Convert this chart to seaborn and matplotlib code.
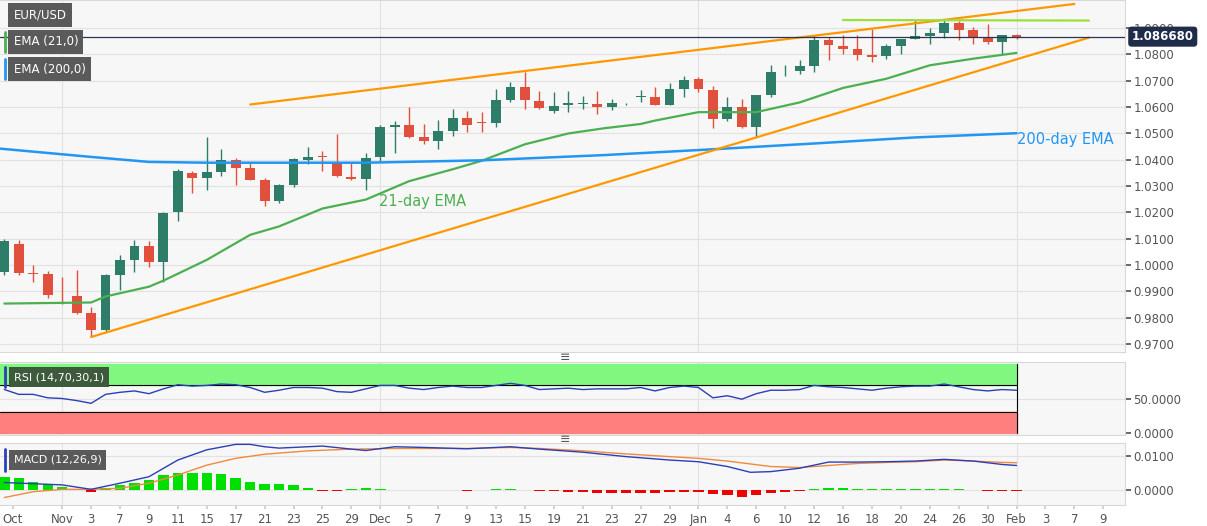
import numpy as np
import pandas as pd
import matplotlib
matplotlib.use("Agg")
import matplotlib.pyplot as plt
import seaborn as sns

# ---------------- data ----------------
opens = [0.9974,1.0079,0.9968,0.9965,0.9886,0.9882,0.9819,0.9751,0.9961,1.0020,
         1.0070,1.0012,1.0200,1.0350,1.0331,1.0354,1.0397,1.0369,1.0322,1.0242,
         1.0302,1.0398,1.0414,1.0392,1.0335,1.0327,1.0410,1.0524,1.0532,1.0486,
         1.0471,1.0509,1.0556,1.0544,1.0537,1.0628,1.0677,1.0624,1.0586,1.0607,
         1.0611,1.0611,1.0598,1.0610,1.0637,1.0639,1.0609,1.0668,1.0707,1.0665,
         1.0554,1.0601,1.0522,1.0645,1.0735,1.0738,1.0755,1.0853,1.0830,1.0821,
         1.0796,1.0792,1.0832,1.0859,1.0868,1.0882,1.0917,1.0891,1.0866,1.0847,
         1.0872]
highs = [1.0100,1.0095,0.9999,0.9975,0.9955,0.9980,0.9840,0.9965,1.0038,1.0095,
         1.0089,1.0200,1.0363,1.0356,1.0484,1.0439,1.0407,1.0388,1.0331,1.0308,
         1.0405,1.0449,1.0433,1.0496,1.0392,1.0426,1.0532,1.0547,1.0598,1.0535,
         1.0550,1.0592,1.0586,1.0579,1.0668,1.0694,1.0732,1.0662,1.0656,1.0662,
         1.0643,1.0662,1.0630,1.0616,1.0665,1.0675,1.0690,1.0716,1.0713,1.0681,
         1.0637,1.0630,1.0647,1.0758,1.0758,1.0777,1.0872,1.0866,1.0872,1.0872,
         1.0894,1.0840,1.0859,1.0930,1.0898,1.0930,1.0927,1.0902,1.0914,1.0874,
         1.0876]
lows = [0.9960,0.9961,0.9936,0.9875,0.9853,0.9815,0.9726,0.9745,0.9904,0.9974,
        0.9993,0.9936,1.0165,1.0273,1.0286,1.0337,1.0305,1.0322,1.0222,1.0235,
        1.0295,1.0382,1.0356,1.0335,1.0324,1.0286,1.0395,1.0426,1.0481,1.0458,
        1.0439,1.0490,1.0503,1.0503,1.0524,1.0617,1.0592,1.0593,1.0577,1.0582,
        1.0592,1.0573,1.0588,1.0607,1.0617,1.0607,1.0607,1.0639,1.0656,1.0519,
        1.0545,1.0519,1.0486,1.0637,1.0716,1.0726,1.0732,1.0777,1.0802,1.0777,
        1.0770,1.0783,1.0802,1.0856,1.0837,1.0862,1.0853,1.0838,1.0840,1.0802,
        1.0856]
closes = [1.0089,0.9968,0.9965,0.9885,0.9884,0.9819,0.9751,0.9961,1.0019,1.0070,
          1.0012,1.0197,1.0356,1.0331,1.0352,1.0397,1.0369,1.0324,1.0244,1.0303,
          1.0401,1.0408,1.0410,1.0337,1.0327,1.0407,1.0524,1.0532,1.0486,1.0471,
          1.0509,1.0556,1.0532,1.0537,1.0628,1.0677,1.0628,1.0595,1.0603,1.0614,
          1.0612,1.0601,1.0614,1.0612,1.0640,1.0609,1.0668,1.0704,1.0668,1.0554,
          1.0601,1.0522,1.0645,1.0732,1.0737,1.0754,1.0853,1.0834,1.0821,1.0796,
          1.0789,1.0830,1.0856,1.0868,1.0882,1.0917,1.0891,1.0866,1.0847,1.0872,
          1.0867]

ema21_idx = [0,6,7,10,11,14,17,19,22,25,28,31,33,36,39,41.5,44,45,48,52,55,58,61,64,67,70]
ema21_val = [0.9853,0.9857,0.9880,0.9917,0.9940,1.0019,1.0114,1.0146,1.0214,1.0248,1.0318,1.0363,
             1.0395,1.0458,1.0499,1.0519,1.0535,1.0548,1.0580,1.0580,1.0617,1.0672,1.0707,
             1.0758,1.0783,1.0805]
ema200_idx = [-1,6,10,14,19,25,33,41.5,49,56,63,70]
ema200_val = [1.0445,1.0410,1.0391,1.0388,1.0388,1.0388,1.0397,1.0417,1.0439,1.0461,1.0484,1.0500]

upper_line = ([17.0, 74.0], [1.0609, 1.0991])
lower_line = ([6.0, 75.0], [0.9726, 1.0863])
resist_line = ([58.0, 75.0], [1.0930, 1.0928])
last_price = 1.08668

rsi = [63,56,56,51,50,47,43,56,59,61,57,64,70,68,69,71,70,66,59,62,66,66,65,60,59,64,69,69,65,63,
       66,68,66,66,69,72,69,63,64,65,63,64,64,64,66,61,66,68,66,51,54,49,57,62,62,63,69,67,66,64,
       62,65,67,68,68,71,67,63,61,63,62]

macd_idx = [0,4,6,8,10,12,14,16,17,18,19,21,22,24,25,27,29,32,35,37,40,43,46,48,50,51.6,53,55,57,59,61,63,65,67,69,70]
macd_val = [0.0022,0.0015,0.0002,0.0020,0.0039,0.0088,0.0118,0.0134,0.0134,0.0127,0.0123,0.0127,0.0129,
            0.0120,0.0116,0.0127,0.0125,0.0121,0.0127,0.0120,0.0111,0.0098,0.0088,0.0083,0.0069,0.0052,
            0.0054,0.0064,0.0082,0.0082,0.0083,0.0085,0.0090,0.0085,0.0075,0.0072]
signal_idx = [0,2,4,6,8,10,12,14,16,18,21,24,27,29,32,35,37,40,43,46,48,50,53,55,57,59,61,63,65,67,69,70]
signal_val = [-0.0022,-0.0005,0.0002,0.0002,0.0005,0.0020,0.0044,0.0073,0.0093,0.0105,0.0115,0.0120,
              0.0122,0.0122,0.0122,0.0125,0.0122,0.0115,0.0106,0.0098,0.0093,0.0085,0.0069,0.0066,
              0.0072,0.0078,0.0081,0.0083,0.0088,0.0085,0.0081,0.0080]
hist = [0.0039,0.0034,0.0024,0.0017,0.0008,0.0002,-0.0005,0.0005,0.0015,0.0020,
        0.0029,0.0044,0.0051,0.0051,0.0049,0.0047,0.0036,0.0024,0.0017,0.0017,
        0.0015,0.0007,-0.0002,-0.0002,0.0003,0.0005,0.0002,0.0,0.0,0.0,
        0.0,0.0,-0.0002,0.0,0.0002,0.0002,0.0,-0.0003,-0.0004,-0.0005,
        -0.0007,-0.0008,-0.0008,-0.0008,-0.0009,-0.0008,-0.0007,-0.0006,-0.0006,-0.0012,
        -0.0014,-0.0020,-0.0016,-0.0010,-0.0005,-0.0003,0.0004,0.0006,0.0006,0.0003,
        0.0002,0.0002,0.0002,0.0002,0.0002,0.0002,0.0002,0.0,-0.0002,-0.0002,-0.0003]

tick_dates = ["2022-10-26","2022-11-01","2022-11-03","2022-11-07","2022-11-09","2022-11-11",
              "2022-11-15","2022-11-17","2022-11-21","2022-11-23","2022-11-25","2022-11-29",
              "2022-12-01","2022-12-05","2022-12-07","2022-12-09","2022-12-13","2022-12-15",
              "2022-12-19","2022-12-21","2022-12-23","2022-12-27","2022-12-29","2023-01-02",
              "2023-01-04","2023-01-06","2023-01-10","2023-01-12","2023-01-16","2023-01-18",
              "2023-01-20","2023-01-24","2023-01-26","2023-01-30","2023-02-01","2023-02-03",
              "2023-02-07","2023-02-09"]
tick_labels = ["Oct","Nov","3","7","9","11","15","17","21","23","25","29","Dec","5","7","9",
               "13","15","19","21","23","27","29","Jan","4","6","10","12","16","18","20","24",
               "26","30","Feb","3","7","9"]
month_dates = ["2022-11-01","2022-12-01","2023-01-02","2023-02-01"]

# ---------------- styling ----------------
sns.set_theme(style="white")
plt.rcParams['font.family'] = ['DejaVu Sans']
BG = "#f7f7f7"
GRID = "#e2e2e2"
UP = "#2e7d69"
DN = "#e0503c"

days = pd.bdate_range("2022-10-26", "2023-02-09")
pos = {d.strftime("%Y-%m-%d"): i for i, d in enumerate(days)}
tick_pos = [pos[d] + (0.6 if d == "2022-10-26" else 0) for d in tick_dates]
month_pos = [pos[d] for d in month_dates]
n = len(opens)
x = np.arange(n)

fig = plt.figure(figsize=(12.07, 5.26), dpi=100)
fig.patch.set_facecolor("white")
W = 1125 / 1207
ax = fig.add_axes([0, 1 - 352/526, W, 352/526])
ax_r = fig.add_axes([0, 1 - 435/526, W, 73/526])
ax_m = fig.add_axes([0, 1 - 505/526, W, 62/526])
XL = (-0.3, 77.5)

def style(a):
    a.set_facecolor(BG)
    a.set_xlim(*XL)
    a.yaxis.tick_right()
    a.tick_params(axis="y", labelsize=8.5, colors="#555555", length=4, pad=2, direction="out", right=True)
    for s in a.spines.values():
        s.set_color("#d8d8d8")
        s.set_linewidth(0.8)
    a.spines["left"].set_visible(False)
    for mp in month_pos:
        a.axvline(mp, color=GRID, lw=0.8, zorder=0)

# ---- main panel ----
style(ax)
ax.set_ylim(0.9669, 1.1006)
yt = np.round(np.arange(0.97, 1.0901, 0.01), 2)
ax.set_yticks(yt)
ax.set_yticklabels([f"{v:.4f}" for v in yt])
for v in yt:
    ax.axhline(v, color=GRID, lw=0.8, zorder=0)
ax.set_xticks([])

df = pd.DataFrame({"x": x, "o": opens, "h": highs, "l": lows, "c": closes})
colors = [UP if c >= o else DN for o, c in zip(opens, closes)]
ax.vlines(df["x"], df["l"], df["h"], colors=colors, lw=1.0, zorder=3)
bottoms = np.minimum(df["o"], df["c"])
heights = np.maximum(np.abs(df["c"] - df["o"]), 0.00025)
ax.bar(df["x"], heights, bottom=bottoms, width=0.68, color=colors, zorder=4, linewidth=0)

sns.lineplot(x=ema21_idx, y=ema21_val, ax=ax, color="#4caf50", lw=1.6, zorder=5)
sns.lineplot(x=ema200_idx, y=ema200_val, ax=ax, color="#2196f3", lw=1.8, zorder=5)
sns.lineplot(x=upper_line[0], y=upper_line[1], ax=ax, color="#ff9800", lw=1.6, zorder=6)
sns.lineplot(x=lower_line[0], y=lower_line[1], ax=ax, color="#ff9800", lw=1.6, zorder=6)
sns.lineplot(x=resist_line[0], y=resist_line[1], ax=ax, color="#9be03a", lw=1.6, zorder=6)
ax.axhline(last_price, color="#2a3552", lw=0.9, zorder=7)

ax.text(25.9, 1.0240, "21-day EMA", color="#4caf50", fontsize=10.5, va="center", ha="left", zorder=8)
ax.text(70.0, 1.0476, "200-day EMA", color="#2196f3", fontsize=10.5, va="center", ha="left", zorder=8)

ax.text(1.006, last_price, f"{last_price:.6f}", transform=ax.get_yaxis_transform(),
        color="white", fontsize=8.5, fontweight="bold", va="center", ha="left", zorder=10,
        bbox=dict(boxstyle="round,pad=0.3", fc="#1f2d4a", ec="none"), clip_on=False)

def tag(a, yfrac, text, fc, edge=None, h=0.055, fs=8.5):
    a.text(0.012, yfrac, text, transform=a.transAxes, color="white", fontsize=fs, va="center",
           ha="left", zorder=12, bbox=dict(boxstyle="square,pad=0.45", fc=fc, ec="none"))
    if edge:
        a.plot([0.0045, 0.0045], [yfrac - h/2, yfrac + h/2], transform=a.transAxes, color=edge, lw=2, zorder=13)

tag(ax, 1 - 15/352, "EUR/USD", "#5a5a5a")
tag(ax, 1 - 42/352, "EMA (21,0)", "#5a5a5a", "#4caf50")
tag(ax, 1 - 69/352, "EMA (200,0)", "#5a5a5a", "#2196f3")

# ---- RSI panel ----
style(ax_r)
ax_r.set_ylim(-3, 103)
ax_r.set_yticks([0, 50])
ax_r.set_yticklabels(["0.0000", "50.0000"])
ax_r.axhline(50, color=GRID, lw=0.8, zorder=0)
ax_r.set_xticks([])
ax_r.fill_between([-0.3, 70], 70, 100, color="#80f880", zorder=1)
ax_r.fill_between([-0.3, 70], 0, 30, color="#ff7f7f", zorder=1)
ax_r.plot([-0.3, 70], [70, 70], color="black", lw=0.8, zorder=2)
ax_r.plot([-0.3, 70], [30, 30], color="black", lw=0.8, zorder=2)
ax_r.plot([70, 70], [0, 100], color="black", lw=0.8, zorder=2)
sns.lineplot(x=x, y=rsi, ax=ax_r, color="#2a3fb8", lw=1.0, zorder=5)
tag(ax_r, 1 - 15/73, "RSI (14,70,30,1)", "#3d5a3d", "#2a3fb8", h=0.27, fs=8)

# ---- MACD panel ----
style(ax_m)
ax_m.set_ylim(-0.0044, 0.0138)
ax_m.set_yticks([0.0, 0.01])
ax_m.set_yticklabels(["0.0000", "0.0100"])
ax_m.axhline(0.0, color=GRID, lw=0.8, zorder=0)
ax_m.axhline(0.01, color=GRID, lw=0.8, zorder=0)
hcol = ["#00e000" if v >= 0 else "#ee0000" for v in hist]
hh = [v if v != 0 else 0.00008 for v in hist]
ax_m.bar(x, hh, width=0.72, color=hcol, zorder=3, linewidth=0)
sns.lineplot(x=signal_idx, y=signal_val, ax=ax_m, color="#f08a3c", lw=1.0, zorder=5)
sns.lineplot(x=macd_idx, y=macd_val, ax=ax_m, color="#2a3fb8", lw=1.0, zorder=6)
tag(ax_m, 1 - 17/62, "MACD (12,26,9)", "#5a5a5a", "#2a3fb8", h=0.34, fs=8)
ax_m.set_xticks(tick_pos)
ax_m.set_xticklabels(tick_labels)
ax_m.tick_params(axis="x", labelsize=8.5, colors="#555555", length=3, color="#cccccc", pad=3, bottom=True)

# separators
for yy in [357, 439]:
    fig.text(565/1207, 1 - yy/526, "≡", ha="center", va="center", fontsize=9, color="#555555")

fig.savefig("out.png", dpi=100, facecolor="white")
